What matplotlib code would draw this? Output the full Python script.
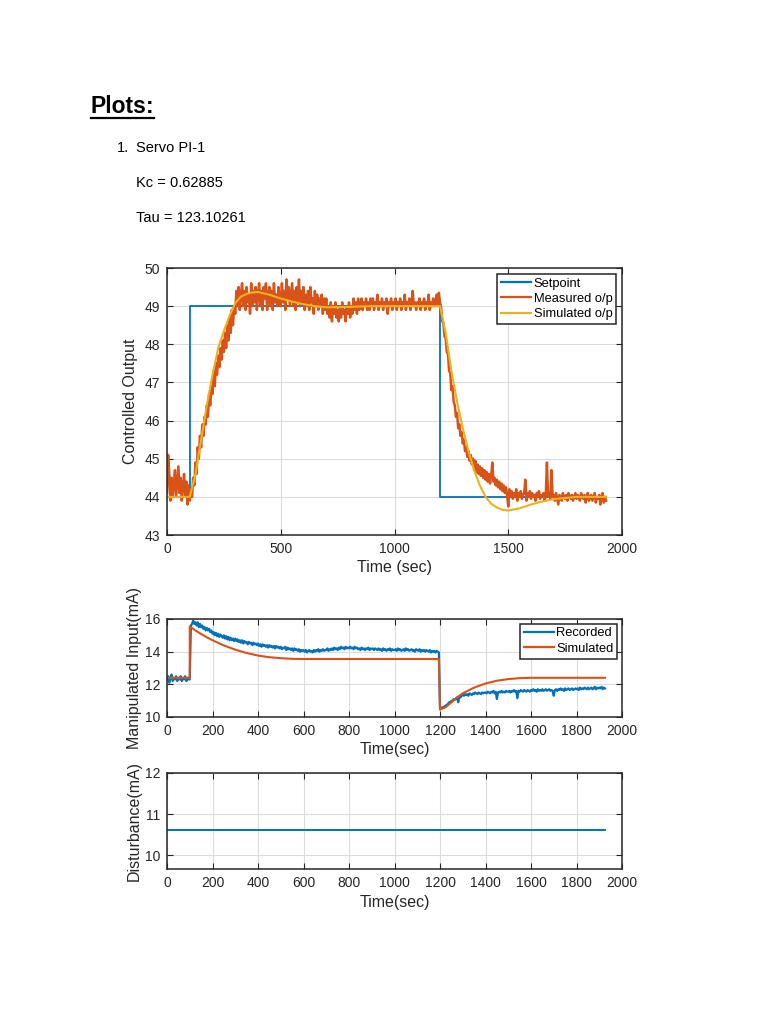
import numpy as np
import matplotlib
matplotlib.use("Agg")
import matplotlib.pyplot as plt
from matplotlib.lines import Line2D

plt.rcParams['font.family'] = ['Liberation Sans', 'DejaVu Sans']

# MATLAB default colours
C_BLUE = '#0072BD'
C_ORANGE = '#D95319'
C_YELLOW = '#EDB120'
C_AX = '#262626'

##############################################################################

setpoint_t = [0, 100, 1200, 1930]
setpoint_v = [44, 49, 44, 44]

measured_op = [
    44.1, 45.1, 44.6, 43.9, 44.5, 44.0, 44.3, 44.7, 44.0, 44.4, 44.8, 44.1, 44.5, 43.9, 44.3, 44.6, 44.0, 44.4, 43.8, 44.3,
    43.9, 44.2, 44.0, 44.5, 44.3, 44.9, 44.6, 45.3, 45.0, 45.6, 45.3, 45.9, 45.6, 46.1, 45.9, 46.4, 46.1, 46.7, 46.4, 46.9,
    46.7, 47.3, 46.9, 47.5, 47.2, 47.7, 47.4, 47.9, 47.6, 48.1, 47.8, 48.3, 47.9, 48.5, 48.1, 48.7, 48.3, 48.9, 48.5, 49.0,
    48.8, 49.4, 49.0, 49.5, 48.9, 49.3, 49.6, 49.0, 49.4, 48.9, 49.5, 49.1, 49.3, 48.8, 49.6, 49.0, 49.4, 49.1, 49.5, 48.9,
    49.3, 49.6, 49.0, 49.4, 48.9, 49.5, 49.2, 49.6, 48.9, 49.3, 49.5, 49.0, 49.4, 48.9, 49.6, 49.1, 49.3, 49.0, 49.5, 49.2,
    49.0, 49.6, 49.1, 49.4, 48.9, 49.7, 49.2, 49.5, 49.0, 49.3, 49.6, 49.0, 49.4, 48.9, 49.5, 49.1, 49.7, 49.0, 49.4, 49.1,
    49.5, 48.9, 49.3, 49.0, 49.4, 48.9, 49.5, 49.1, 49.2, 48.8, 49.4, 49.0, 49.3, 48.9, 49.2, 49.0, 49.3, 48.8, 49.2, 48.9,
    49.2, 48.8, 49.0, 48.7, 49.1, 48.6, 49.0, 48.8, 49.1, 48.7, 48.9, 48.6, 49.0, 48.7, 49.1, 48.8, 48.9, 48.6, 49.0, 48.8,
    49.1, 48.7, 49.0, 48.8, 49.2, 48.9, 49.1, 48.8, 49.2, 48.9, 49.0, 49.2, 48.9, 49.1, 49.0, 49.2, 48.9, 49.1, 48.9, 49.2,
    49.0, 49.2, 48.9, 49.1, 49.0, 49.3, 48.9, 49.1, 49.0, 49.2, 48.9, 49.1, 49.0, 49.2, 48.8, 49.1, 49.0, 49.2, 48.9, 49.1,
    49.0, 49.2, 48.9, 49.1, 49.0, 49.2, 48.9, 49.1, 49.0, 49.3, 48.9, 49.1, 49.0, 49.2, 48.9, 49.1, 49.4, 49.0, 49.1, 48.9,
    49.1, 49.0, 49.2, 48.9, 49.1, 49.0, 49.2, 48.9, 49.1, 49.0, 49.3, 48.9, 49.1, 49.0, 49.2, 49.0, 49.1, 49.3, 49.0, 49.35,
    49.1, 48.95, 48.6, 48.55, 48.2, 48.15, 47.8, 47.75, 47.3, 47.25, 46.8, 46.9, 46.5, 46.4, 46.1, 46.2, 45.8, 45.9, 45.6, 45.7,
    45.4, 45.5, 45.2, 45.3, 45.05, 45.2, 44.95, 45.1, 44.85, 45.0, 44.7, 44.95, 44.65, 44.85, 44.6, 44.8, 44.55, 44.75, 44.5, 44.7,
    44.45, 44.65, 44.4, 44.6, 44.35, 44.55, 44.9, 44.4, 44.5, 44.3, 44.45, 44.25, 44.4, 44.2, 44.35, 44.15, 44.3, 44.1, 44.25, 44.05,
    43.75, 44.2, 44.0, 44.15, 43.95, 44.1, 44.0, 44.2, 43.9, 44.1, 44.0, 44.15, 43.95, 44.05, 44.1, 44.45, 43.9, 44.1, 44.0, 44.15,
    43.95, 44.1, 44.0, 44.05, 43.9, 44.1, 44.0, 44.15, 43.95, 44.05, 44.0, 44.1, 43.9, 44.05, 44.9, 44.0, 44.1, 43.95, 44.7, 44.0,
    44.05, 43.9, 44.1, 43.95, 43.8, 44.05, 44.0, 43.9, 44.1, 44.0, 43.95, 44.05, 43.9, 44.1, 44.0, 43.95, 44.05, 43.9, 44.0, 44.1,
    43.95, 44.05, 44.0, 43.9, 44.1, 44.0, 43.95, 44.05, 43.85, 44.0, 44.1, 43.9, 44.0, 44.05, 43.9, 44.0, 44.1, 43.85, 44.0, 43.95,
    44.05, 43.8, 44.0, 44.1, 43.85, 44.0, 43.9,
]

sim_op_t = [0, 100, 125, 150, 175, 200, 225, 250, 275, 300, 325, 350, 375,
            400, 450, 500, 550, 600, 650, 700, 800, 900, 1000, 1200, 1225,
            1250, 1275, 1300, 1325, 1350, 1375, 1400, 1425, 1450, 1475, 1500,
            1550, 1600, 1650, 1700, 1800, 1930]
sim_op_v = [44.0, 44.0, 44.6, 45.5, 46.4, 47.2, 47.9, 48.35, 48.75, 49.08,
            49.25, 49.32, 49.36, 49.37, 49.3, 49.2, 49.12, 49.05, 49.0, 48.97,
            48.98, 49.0, 49.0, 49.0, 48.3, 47.3, 46.5, 45.8, 45.2, 44.7, 44.3,
            44.0, 43.82, 43.72, 43.66, 43.64, 43.7, 43.8, 43.88, 43.94, 44.0,
            44.0]

recorded_mv = [
    12.3, 12.5, 12.1, 12.4, 12.6, 12.2, 12.4, 12.3, 12.5, 12.2, 12.4, 12.3, 12.5, 12.2, 12.4, 12.3, 12.5, 12.2, 12.4, 12.3,
    12.3, 15.6, 15.7, 15.9, 15.7, 15.8, 15.6, 15.8, 15.5, 15.7, 15.5, 15.6, 15.4, 15.5, 15.3, 15.45, 15.3, 15.4, 15.2, 15.3,
    15.1, 15.2, 15.0, 15.15, 14.95, 15.1, 14.9, 15.05, 14.95, 14.85, 15.0, 14.8, 14.95, 14.75, 14.9, 14.7, 14.85, 14.7, 14.8, 14.65,
    14.8, 14.65, 14.75, 14.6, 14.7, 14.55, 14.7, 14.5, 14.65, 14.55, 14.6, 14.45, 14.6, 14.5, 14.55, 14.4, 14.55, 14.45, 14.5, 14.4,
    14.5, 14.35, 14.45, 14.3, 14.45, 14.35, 14.4, 14.3, 14.4, 14.25, 14.4, 14.3, 14.35, 14.25, 14.35, 14.2, 14.35, 14.25, 14.3, 14.2,
    14.3, 14.15, 14.25, 14.2, 14.3, 14.1, 14.25, 14.15, 14.2, 14.1, 14.2, 14.05, 14.2, 14.1, 14.15, 14.05, 14.15, 14.0, 14.1, 14.05,
    14.1, 14.0, 14.1, 13.95, 14.05, 14.1, 14.0, 14.05, 13.95, 14.1, 14.0, 14.1, 14.05, 14.15, 14.0, 14.1, 14.05, 14.15, 14.05, 14.1,
    14.1, 14.2, 14.05, 14.15, 14.1, 14.2, 14.1, 14.25, 14.15, 14.2, 14.1, 14.25, 14.15, 14.3, 14.2, 14.25, 14.15, 14.3, 14.2, 14.25,
    14.2, 14.3, 14.2, 14.25, 14.15, 14.3, 14.2, 14.25, 14.15, 14.2, 14.1, 14.25, 14.15, 14.2, 14.1, 14.2, 14.15, 14.25, 14.1, 14.2,
    14.15, 14.2, 14.1, 14.2, 14.15, 14.1, 14.2, 14.1, 14.15, 14.05, 14.2, 14.1, 14.15, 14.05, 14.15, 14.1, 14.2, 14.05, 14.15, 14.1,
    14.1, 14.15, 14.05, 14.2, 14.1, 14.15, 14.05, 14.1, 14.15, 14.05, 14.2, 14.1, 14.15, 14.05, 14.1, 14.15, 14.05, 14.1, 14.0, 14.15,
    14.1, 14.05, 14.15, 14.0, 14.1, 14.05, 14.1, 14.0, 14.1, 14.05, 14.0, 14.1, 13.95, 14.05, 14.0, 14.05, 13.95, 14.05, 14.0, 13.95,
    10.55, 10.5, 10.6, 10.55, 10.65, 10.7, 10.75, 10.8, 10.9, 10.85, 11.0, 10.95, 11.1, 11.05, 11.15, 11.2, 10.9, 11.25, 11.2, 11.3,
    11.35, 11.3, 11.4, 11.35, 11.4, 11.3, 11.45, 11.4, 11.35, 11.45, 11.4, 11.5, 11.45, 11.4, 11.5, 11.45, 11.4, 11.5, 11.45, 11.5,
    11.5, 11.45, 11.55, 11.5, 11.45, 11.55, 11.5, 11.6, 11.45, 11.55, 11.1, 11.5, 11.55, 11.5, 11.6, 11.5, 11.55, 11.5, 11.6, 11.55,
    11.55, 11.6, 11.5, 11.6, 11.55, 11.65, 11.55, 11.6, 11.15, 11.6, 11.55, 11.65, 11.6, 11.55, 11.65, 11.6, 11.55, 11.65, 11.6, 11.55,
    11.65, 11.6, 11.7, 11.6, 11.65, 11.55, 11.7, 11.6, 11.65, 11.6, 11.7, 11.6, 11.65, 11.7, 11.6, 11.65, 11.7, 11.6, 11.65, 11.6,
    11.3, 11.65, 11.7, 11.6, 11.7, 11.65, 11.75, 11.65, 11.7, 11.6, 11.75, 11.65, 11.7, 11.75, 11.65, 11.7, 11.75, 11.65, 11.7, 11.75,
    11.7, 11.75, 11.65, 11.8, 11.7, 11.75, 11.7, 11.8, 11.75, 11.7, 11.8, 11.7, 11.75, 11.8, 11.7, 11.75, 11.85, 11.7, 11.8, 11.75,
    11.8, 11.75, 11.85, 11.7, 11.8, 11.75,
]

sim_mv_t = [0, 100, 100, 125, 150, 175, 200, 250, 300, 350, 400, 450, 500,
            550, 600, 1195, 1200, 1225, 1250, 1275, 1300, 1350, 1400, 1450,
            1500, 1550, 1600, 1925]
sim_mv_v = [12.4, 12.4, 15.55, 15.3, 15.08, 14.88, 14.7, 14.38, 14.12, 13.92,
            13.76, 13.66, 13.6, 13.56, 13.55, 13.55, 10.45, 10.6, 10.9, 11.2,
            11.45, 11.8, 12.05, 12.22, 12.32, 12.38, 12.4, 12.4]

dist_t = [0, 1925]
dist_v = [10.62, 10.62]

t_meas = np.arange(len(measured_op)) * 5
t_rec = np.arange(len(recorded_mv)) * 5


def matlab_axes(ax):
    # MATLAB-style box, inward ticks on all sides and light grid
    ax.tick_params(direction='in', top=True, right=True, length=4,
                   width=0.8, colors=C_AX, labelsize=10, pad=5)
    for s in ax.spines.values():
        s.set_color(C_AX)
        s.set_linewidth(1.1)
    ax.grid(True, color='#dcdcdc', linewidth=0.8)
    ax.set_axisbelow(True)


def matlab_legend(ax, pad):
    leg = ax.legend(loc='upper right', fontsize=9.3, fancybox=False,
                    framealpha=1, edgecolor=C_AX, borderpad=0.3,
                    labelspacing=0.25, handlelength=2.3, handletextpad=0.2,
                    borderaxespad=pad)
    leg.get_frame().set_linewidth(1.1)
    for line in leg.get_lines():
        line.set_linewidth(1.6)
    return leg


fig = plt.figure(figsize=(7.68, 10.24), dpi=100)

# Page text
##############################################################################
fig.text(91 / 768, 1 - 113 / 1024, 'Plots:', fontsize=16.5, fontweight='bold',
         va='baseline', ha='left')
fig.add_artist(Line2D([91 / 768, 154 / 768], [1 - 118 / 1024, 1 - 118 / 1024],
                      color='black', linewidth=1.6))
fig.text(117 / 768, 1 - 152 / 1024, '1.', fontsize=10.5, va='baseline')
fig.text(136 / 768, 1 - 152 / 1024, 'Servo PI-1', fontsize=10.5, va='baseline')
fig.text(136 / 768, 1 - 187 / 1024, 'Kc = 0.62885', fontsize=10.5, va='baseline')
fig.text(136 / 768, 1 - 222 / 1024, 'Tau = 123.10261', fontsize=10.5, va='baseline')

# Plot 1: controlled output
##############################################################################
ax1 = fig.add_axes([167 / 768, 1 - 535 / 1024, 455 / 768, 267 / 1024])
ax1.plot(setpoint_t, setpoint_v, drawstyle='steps-post', color=C_BLUE,
         linewidth=1.3, label='Setpoint')
ax1.plot(t_meas, measured_op, color=C_ORANGE, linewidth=1.8,
         label='Measured o/p')
ax1.plot(sim_op_t, sim_op_v, color=C_YELLOW, linewidth=1.5,
         label='Simulated o/p')
ax1.set_xlim(0, 2000)
ax1.set_ylim(43, 50)
ax1.set_xticks([0, 500, 1000, 1500, 2000])
ax1.set_yticks(range(43, 51))
ax1.set_xlabel('Time (sec)', fontsize=11.5, color=C_AX, labelpad=3)
ax1.set_ylabel('Controlled Output', fontsize=11.5, color=C_AX, labelpad=5)
matlab_axes(ax1)
matlab_legend(ax1, 0.45)

# Plot 2: manipulated input
##############################################################################
ax2 = fig.add_axes([167 / 768, 1 - 717 / 1024, 455 / 768, 98 / 1024])
ax2.plot(t_rec, recorded_mv, color=C_BLUE, linewidth=1.6, label='Recorded')
ax2.plot(sim_mv_t, sim_mv_v, color=C_ORANGE, linewidth=1.5, label='Simulated')
ax2.set_xlim(0, 2000)
ax2.set_ylim(10, 16)
ax2.set_xticks(range(0, 2001, 200))
ax2.set_yticks([10, 12, 14, 16])
ax2.set_xlabel('Time(sec)', fontsize=11.5, color=C_AX, labelpad=3)
ax2.set_ylabel('Manipulated Input(mA)', fontsize=11.5, color=C_AX, labelpad=2)
matlab_axes(ax2)
matlab_legend(ax2, 0.35)

# Plot 3: disturbance
##############################################################################
ax3 = fig.add_axes([167 / 768, 1 - 869 / 1024, 455 / 768, 96 / 1024])
ax3.plot(dist_t, dist_v, color=C_BLUE, linewidth=1.4)
ax3.set_xlim(0, 2000)
ax3.set_ylim(9.66, 12)
ax3.set_xticks(range(0, 2001, 200))
ax3.set_yticks([10, 11, 12])
ax3.set_xlabel('Time(sec)', fontsize=11.5, color=C_AX, labelpad=4)
ax3.set_ylabel('Disturbance(mA)', fontsize=11.5, color=C_AX, labelpad=2)
matlab_axes(ax3)

fig.savefig('out.png', dpi=100, facecolor='white')
